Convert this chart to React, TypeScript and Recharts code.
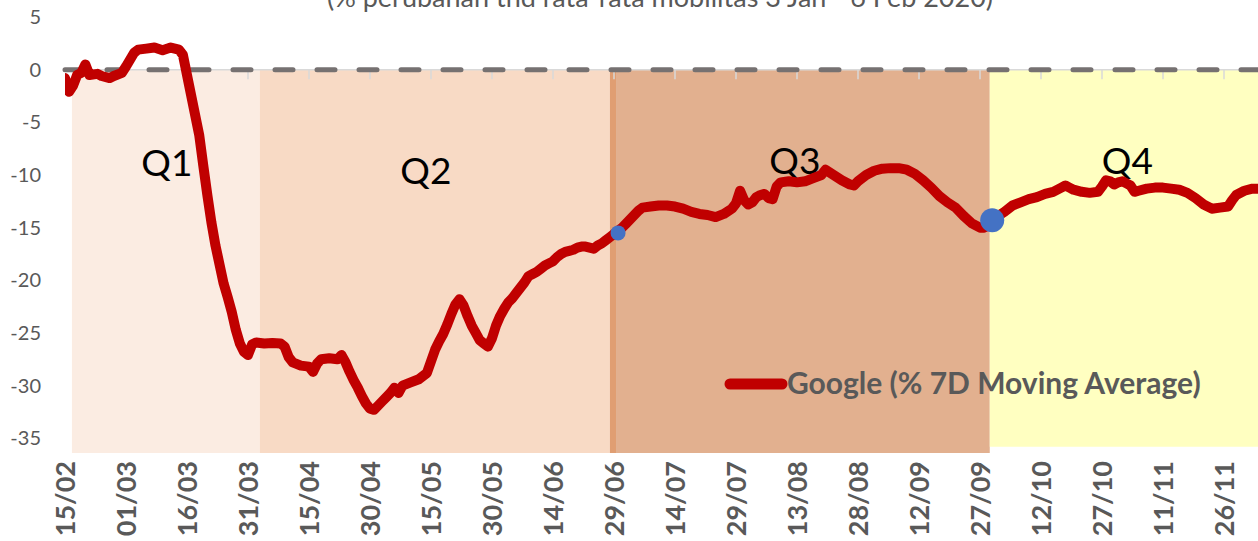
import {
  ComposedChart,
  Line,
  XAxis,
  YAxis,
  ReferenceArea,
  ReferenceLine,
  ReferenceDot,
  Legend,
} from 'recharts';

// days counted from 15/02/2020
const DAYS = [
  0, 1, 2, 3, 4, 5, 6, 8, 9, 11, 12, 14, 15, 17, 18, 20, 22, 24, 26, 28, 29, 30,
  31, 32, 33, 34, 35, 36, 37, 38, 39, 40, 41, 42, 43, 44, 45, 46, 47, 49, 51, 53,
  54, 55, 56, 58, 60, 61, 62, 63, 65, 67, 68, 69, 70, 71, 72, 73, 74, 75, 76, 77,
  78, 79, 80, 81, 82, 83, 85, 87, 89, 90, 91, 92, 93, 94, 95, 96, 97, 98, 99, 100,
  101, 102, 103, 104, 105, 106, 107, 108, 109, 110, 111, 112, 113, 114, 115, 116,
  117, 118, 119, 120, 121, 122, 123, 124, 125, 126, 127, 128, 129, 130, 131, 132,
  133, 134, 135, 136, 137, 138, 139, 140, 141, 142, 144, 146, 148, 150, 152, 154,
  156, 158, 160, 162, 164, 165, 166, 167, 168, 169, 170, 171, 172, 173, 174, 175,
  176, 178, 180, 182, 184, 186, 187, 189, 191, 193, 194, 195, 197, 199, 201, 203,
  205, 207, 209, 211, 213, 215, 217, 219, 221, 223, 225, 226, 227, 228, 229, 231,
  233, 235, 237, 239, 241, 243, 245, 246, 247, 248, 250, 252, 254, 255, 256, 257,
  258, 259, 260, 261, 262, 263, 264, 266, 268, 270, 272, 274, 276, 278, 280, 282,
  284, 286, 287, 288, 290, 292, 294, 296,
];

const GOOGLE = [
  -0.8, -2.1, -1.5, -0.5, -0.3, 0.5, -0.5, -0.4, -0.6, -0.8, -0.6, -0.3, 0.3, 1.6,
  1.9, 2.0, 2.1, 1.85, 2.1, 1.9, 1.4, -0.5, -2.4, -4.3, -6.2, -9.1, -11.9, -14.5,
  -16.7, -18.5, -20.3, -21.6, -23.0, -24.7, -26.0, -26.8, -27.1, -26.1, -25.9,
  -26.0, -25.95, -26.0, -26.3, -27.3, -27.8, -28.1, -28.2, -28.7, -27.9, -27.5,
  -27.4, -27.5, -27.1, -27.8, -28.7, -29.5, -30.2, -31.0, -31.7, -32.2, -32.3,
  -31.9, -31.5, -31.1, -30.7, -30.2, -30.7, -30.0, -29.7, -29.4, -28.8, -27.7,
  -26.6, -25.8, -25.1, -24.2, -23.2, -22.3, -21.8, -22.4, -23.4, -24.3, -25.0,
  -25.7, -26.0, -26.3, -25.5, -24.3, -23.4, -22.7, -22.1, -21.7, -21.2, -20.7,
  -20.2, -19.6, -19.4, -19.2, -18.9, -18.6, -18.4, -18.2, -17.8, -17.5, -17.3,
  -17.2, -17.1, -16.9, -16.8, -16.8, -16.9, -17.0, -16.7, -16.5, -16.2, -15.9,
  -15.6, -15.3, -15.0, -14.6, -14.2, -13.8, -13.4, -13.1, -13.0, -12.9, -12.9,
  -13.0, -13.2, -13.5, -13.7, -13.8, -14.0, -13.7, -13.2, -12.7, -11.5, -12.4,
  -12.8, -12.6, -12.1, -11.9, -11.8, -12.2, -12.3, -11.1, -10.7, -10.6, -10.7,
  -10.6, -10.3, -10.0, -9.5, -10.0, -10.5, -10.9, -11.0, -10.6, -10.0, -9.6, -9.4,
  -9.35, -9.35, -9.5, -9.9, -10.5, -11.2, -12.0, -12.6, -13.1, -13.9, -14.6, -15.0,
  -15.0, -14.8, -14.4, -14.0, -13.5, -12.9, -12.6, -12.3, -12.1, -11.8, -11.6,
  -11.2, -11.0, -11.2, -11.4, -11.6, -11.7, -11.6, -11.1, -10.5, -10.6, -10.9,
  -10.7, -10.6, -10.8, -11.0, -11.6, -11.5, -11.3, -11.2, -11.2, -11.3, -11.4,
  -11.7, -12.2, -12.8, -13.2, -13.1, -13.0, -12.4, -11.9, -11.5, -11.3, -11.3,
  -11.2,
];

const TICK_DAYS = [
  0, 15, 30, 45, 60, 75, 90, 105, 120, 135, 150, 165, 180, 195, 210, 225, 240, 255,
  270, 285,
];
const TICK_LABELS = [
  '15/02', '01/03', '16/03', '31/03', '15/04', '30/04', '15/05', '30/05', '14/06',
  '29/06', '14/07', '29/07', '13/08', '28/08', '12/09', '27/09', '12/10', '27/10',
  '11/11', '26/11',
];
const Y_TICKS = [5, 0, -5, -10, -15, -20, -25, -30, -35];

const QUARTERS = ['Q1', 'Q2', 'Q3', 'Q4'];
const QUARTER_FROM = [1.7, 47.9, 135.5, 227.4];
const QUARTER_TO = [47.9, 134, 227.4, 300];
const QUARTER_LOW = [-36.4, -36.4, -36.4, -35.8];

const MARKER_DAYS = [136, 228];
const MARKER_VALUES = [-15.5, -14.3];

const QUARTER_FILL = ['#FBECE2', '#F8DAC5', '#E2B08F', '#FFFFC1'];
// label nudges, px from band centre / band top
const QUARTER_DX = [1, -9, -8, -10];
const QUARTER_BASE = [106, 114, 104, 104];
const MARKER_R = [7.5, 12];

const FONT = 'Lato, "Open Sans", sans-serif';
const GREY = '#595959';

const data = DAYS.map((d, i) => ({ day: d, google: GOOGLE[i] }));

function DateTick({ x, y, payload }: any) {
  const i = TICK_DAYS.indexOf(payload.value);
  return (
    <text
      transform={`translate(${x},${y}) rotate(-90)`}
      textAnchor="end"
      dy="0.36em"
      fill={GREY}
      fontSize={27}
      fontWeight={700}
      fontFamily={FONT}
    >
      {TICK_LABELS[i]}
    </text>
  );
}

function quarterLabel(i: number) {
  return (props: any) => {
    const vb = props.viewBox;
    return (
      <text
        x={vb.x + vb.width / 2 + QUARTER_DX[i]}
        y={vb.y + QUARTER_BASE[i]}
        textAnchor="middle"
        fill="#000"
        fontSize={37}
        fontFamily={FONT}
      >
        {QUARTERS[i]}
      </text>
    );
  };
}

function LegendBox() {
  return (
    <svg width={520} height={44} style={{ display: 'block' }}>
      <line x1={10} y1={18} x2={62} y2={18} stroke="#C00000" strokeWidth={11} strokeLinecap="round" />
      <text x={67} y={28} fill={GREY} fontSize={30} fontWeight={700} fontFamily={FONT}>
        Google (% 7D Moving Average)
      </text>
    </svg>
  );
}

export default function App() {
  return (
    <div
      style={{
        position: 'absolute',
        left: 0,
        top: 0,
        width: 1258,
        height: 541,
        overflow: 'hidden',
        background: '#fff',
      }}
    >
      <svg width={1258} height={30} style={{ position: 'absolute', left: 0, top: 0 }}>
        <text x={660} y={7} textAnchor="middle" fill={GREY} fontSize={27} fontFamily={FONT}>
          (% perubahan thd rata-rata mobilitas 3 Jan - 6 Feb 2020)
        </text>
      </svg>
      <ComposedChart
        width={1285}
        height={541}
        data={data}
        margin={{ top: 17, right: 0, bottom: 0, left: 0 }}
      >
        <XAxis
          dataKey="day"
          type="number"
          domain={[0, 300]}
          ticks={TICK_DAYS}
          interval={0}
          allowDataOverflow
          height={88}
          axisLine={false}
          tickLine={false}
          tick={<DateTick />}
        />
        <YAxis
          type="number"
          domain={[-36.4, 5]}
          ticks={Y_TICKS}
          interval={0}
          allowDataOverflow
          width={65}
          axisLine={false}
          tickLine={false}
          tickMargin={18}
          tick={{ fill: GREY, fontSize: 20, fontFamily: FONT }}
        />
        {QUARTERS.map((q, i) => (
          <ReferenceArea
            key={q}
            x1={QUARTER_FROM[i]}
            x2={QUARTER_TO[i]}
            y1={QUARTER_LOW[i]}
            y2={0}
            fill={QUARTER_FILL[i]}
            fillOpacity={1}
            stroke="none"
            ifOverflow="hidden"
            label={quarterLabel(i)}
          />
        ))}
        <ReferenceArea
          x1={QUARTER_TO[1]}
          x2={QUARTER_FROM[2]}
          y1={QUARTER_LOW[1]}
          y2={0}
          fill="#E09E72"
          fillOpacity={1}
          stroke="none"
        />
        <ReferenceLine y={0} stroke="#D9D9D9" strokeWidth={1.5} />
        {TICK_DAYS.slice(3).map((d) => (
          <ReferenceLine
            key={d}
            segment={[
              { x: d, y: 0 },
              { x: d, y: -0.9 },
            ]}
            stroke="#D9D9D9"
            strokeWidth={1.5}
          />
        ))}
        <ReferenceLine
          y={0}
          stroke="#767171"
          strokeWidth={5}
          strokeDasharray="18 24"
          strokeLinecap="round"
        />
        <Line
          type="linear"
          dataKey="google"
          stroke="#C00000"
          strokeWidth={10}
          strokeLinejoin="round"
          strokeLinecap="round"
          dot={false}
          activeDot={false}
          isAnimationActive={false}
        />
        {MARKER_DAYS.map((d, i) => (
          <ReferenceDot
            key={d}
            x={d}
            y={MARKER_VALUES[i]}
            r={MARKER_R[i]}
            fill="#4472C4"
            stroke="none"
          />
        ))}
        <Legend
          layout="vertical"
          align="center"
          verticalAlign="middle"
          content={<LegendBox />}
          wrapperStyle={{ left: 720, top: 366, width: 520, height: 44 }}
        />
      </ComposedChart>
    </div>
  );
}
